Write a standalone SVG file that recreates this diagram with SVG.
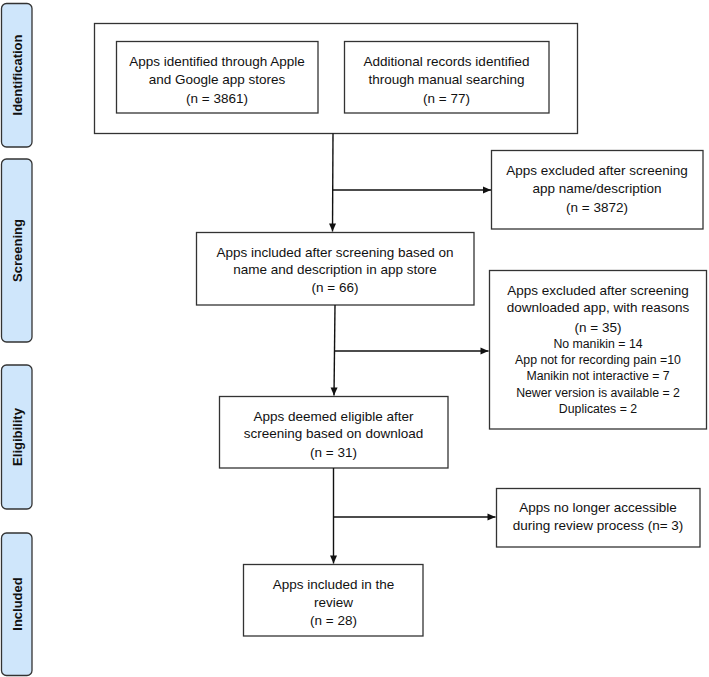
<svg xmlns="http://www.w3.org/2000/svg" width="709" height="677" viewBox="0 0 709 677">
<defs>
<style>
.bg{fill:#ffffff}
.box{fill:#ffffff;stroke:#333333;stroke-width:1.3}
.phase{fill:#cfe6fb;stroke:#333333;stroke-width:1.3}
.t{font-family:"Liberation Sans",Arial,sans-serif;font-size:13.5px;fill:#111111;text-anchor:middle}
.s{font-family:"Liberation Sans",Arial,sans-serif;font-size:12.3px;fill:#111111;text-anchor:middle}
.p{font-family:"Liberation Sans",Arial,sans-serif;font-size:13px;font-weight:bold;fill:#111111;text-anchor:middle}
.c{fill:none;stroke:#111111;stroke-width:1.4}
</style>
<marker id="ah" markerWidth="10" markerHeight="10" refX="9" refY="5" orient="auto" markerUnits="userSpaceOnUse">
<path d="M1,1.5 L9,5 L1,8.5 Z" fill="#111111"/>
</marker>
</defs>
<rect class="bg" x="0" y="0" width="709" height="677"/>

<g id="phase-identification">
<rect class="phase" x="1.5" y="3.5" width="30.5" height="143.5" rx="5"/>
<text class="p" transform="translate(21.5,75) rotate(-90)">Identification</text>
</g>
<g id="phase-screening">
<rect class="phase" x="1.5" y="159" width="30.5" height="183" rx="5"/>
<text class="p" transform="translate(21.5,250.5) rotate(-90)">Screening</text>
</g>
<g id="phase-eligibility">
<rect class="phase" x="1.5" y="365" width="30.5" height="144" rx="5"/>
<text class="p" transform="translate(21.5,437) rotate(-90)">Eligibility</text>
</g>
<g id="phase-included">
<rect class="phase" x="1.5" y="533" width="30.5" height="142.5" rx="5"/>
<text class="p" transform="translate(21.5,604) rotate(-90)">Included</text>
</g>

<g id="identification-group">
<rect class="box" x="94.5" y="23.5" width="483" height="110"/>
</g>
<g id="apps-stores">
<rect class="box" x="116.5" y="41.5" width="201.5" height="71.5"/>
<text class="t" x="217" y="66">Apps identified through Apple</text>
<text class="t" x="217" y="84">and Google app stores</text>
<text class="t" x="217" y="102.5">(n = 3861)</text>
</g>
<g id="apps-manual">
<rect class="box" x="344.5" y="41.5" width="204.5" height="71.5"/>
<text class="t" x="446.5" y="66">Additional records identified</text>
<text class="t" x="446.5" y="84">through manual searching</text>
<text class="t" x="446.5" y="102.5">(n = 77)</text>
</g>

<g id="excluded-name">
<rect class="box" x="491.5" y="150.5" width="211.5" height="78.5"/>
<text class="t" x="597" y="175">Apps excluded after screening</text>
<text class="t" x="597" y="193">app name/description</text>
<text class="t" x="597" y="211.5">(n = 3872)</text>
</g>

<g id="screened">
<rect class="box" x="196.5" y="232.5" width="277.5" height="72.5"/>
<text class="t" x="335" y="257">Apps included after screening based on</text>
<text class="t" x="335" y="274">name and description in app store</text>
<text class="t" x="335" y="292">(n = 66)</text>
</g>

<g id="excluded-download">
<rect class="box" x="489.5" y="270.5" width="217" height="158.5"/>
<text class="t" x="598" y="295">Apps excluded after screening</text>
<text class="t" x="598" y="312">downloaded app, with reasons</text>
<text class="t" x="598" y="331.5">(n = 35)</text>
<text class="s" x="598" y="347.5">No manikin = 14</text>
<text class="s" x="598" y="363.5">App not for recording pain =10</text>
<text class="s" x="598" y="380">Manikin not interactive = 7</text>
<text class="s" x="598" y="396.5">Newer version is available = 2</text>
<text class="s" x="598" y="412.5">Duplicates = 2</text>
</g>

<g id="eligible">
<rect class="box" x="219.5" y="396.5" width="228.5" height="71.5"/>
<text class="t" x="333.5" y="421">Apps deemed eligible after</text>
<text class="t" x="333.5" y="438">screening based on download</text>
<text class="t" x="333.5" y="456.5">(n = 31)</text>
</g>

<g id="no-longer">
<rect class="box" x="496.5" y="488.5" width="203.5" height="58.5"/>
<text class="t" x="598" y="512">Apps no longer accessible</text>
<text class="t" x="598" y="530">during review process (n= 3)</text>
</g>

<g id="included">
<rect class="box" x="243.5" y="564.5" width="179.5" height="71.5"/>
<text class="t" x="333.5" y="589">Apps included in the</text>
<text class="t" x="333.5" y="606.5">review</text>
<text class="t" x="333.5" y="625">(n = 28)</text>
</g>

<g id="connectors">
<path class="c" d="M333,133.5 L332.5,231.5" marker-end="url(#ah)"/>
<path class="c" d="M333,190 L491,190" marker-end="url(#ah)"/>
<path class="c" d="M335,305 L334,395.5" marker-end="url(#ah)"/>
<path class="c" d="M334.5,351 L488.5,351" marker-end="url(#ah)"/>
<path class="c" d="M333.5,468 L333.5,563.5" marker-end="url(#ah)"/>
<path class="c" d="M333.5,517 L495.5,517" marker-end="url(#ah)"/>
</g>
</svg>
